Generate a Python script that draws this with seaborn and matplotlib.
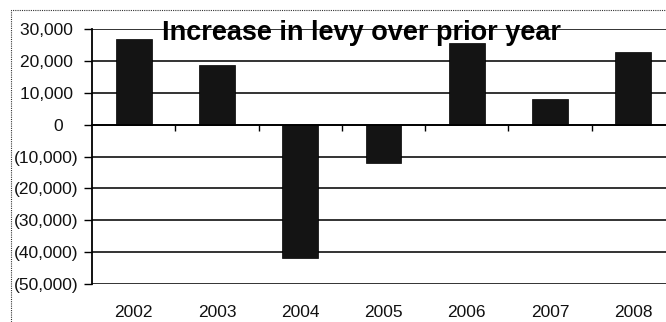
import matplotlib
matplotlib.use("Agg")
import matplotlib.pyplot as plt
import seaborn as sns
import pandas as pd
from matplotlib.patches import Rectangle

# Year-over-year change in the levy
years = ["2002", "2003", "2004", "2005", "2006", "2007", "2008"]
increase = [26900, 18700, -41800, -12000, 25600, 8000, 22800]
y_ticks = [30000, 20000, 10000, 0, -10000, -20000, -30000, -40000, -50000]
title = "Increase in levy over prior year"


def fmt(v):
    # accounting style: negatives in parentheses, positives padded for ")"
    if v < 0:
        return f"({abs(v):,})"
    if v == 0:
        return "0   "
    return f"{v:,} "


sns.set_theme(style="white")
plt.rcParams["font.family"] = ["Liberation Sans", "DejaVu Sans"]

df = pd.DataFrame({"year": years, "increase": increase})

fig = plt.figure(figsize=(6.66, 3.22), dpi=100)
ax = fig.add_axes([92 / 666, 1 - 284 / 322, 583 / 666, 255 / 322])

sns.barplot(data=df, x="year", y="increase", color="#141414",
            saturation=1, width=0.43, ax=ax, edgecolor="#000000", linewidth=0.5)

ax.set_ylim(y_ticks[-1], y_ticks[0])
ax.set_xlim(-0.5, len(years) - 0.5)
ax.set_yticks(y_ticks)
ax.set_yticklabels([fmt(v) for v in y_ticks], fontsize=12.5, color="#111111")
ax.set_axisbelow(True)
ax.yaxis.grid(True, color="#111111", linewidth=1.2)
ax.xaxis.grid(False)

for side in ("top", "right"):
    ax.spines[side].set_visible(False)
ax.spines["left"].set_color("#000000")
ax.spines["left"].set_linewidth(1.3)
ax.spines["bottom"].set_position(("data", 0))
ax.spines["bottom"].set_color("#000000")
ax.spines["bottom"].set_linewidth(1.3)

ax.tick_params(axis="y", which="major", direction="out", length=6, width=1.0,
               color="#000000", pad=4, left=True)
# category separators on the zero line, labels placed under the plot area
ax.set_xticks([i + 0.5 for i in range(len(years) - 1)], minor=True)
ax.tick_params(axis="x", which="minor", direction="out", length=4, width=1.0,
               color="#000000", bottom=True)
ax.tick_params(axis="x", which="major", length=0, labelbottom=False)
ax.set_xlabel("")
ax.set_ylabel("")

for i, yr in enumerate(years):
    ax.text(i, -0.11, yr, transform=ax.get_xaxis_transform(),
            ha="center", va="center", fontsize=12.5, color="#111111")

fig.text(362 / 666, 1 - 40 / 322, title, ha="center", va="baseline",
         fontsize=19.5, fontweight="bold", color="#000000")

# dotted frame around the chart
fig.patches.append(Rectangle((11 / 666, -0.1), 1.2, 1 - 10 / 322 + 0.1,
                             transform=fig.transFigure, fill=False,
                             linestyle=(0, (1, 1)), linewidth=0.8,
                             edgecolor="#333333"))

fig.savefig("out.png", dpi=100)
